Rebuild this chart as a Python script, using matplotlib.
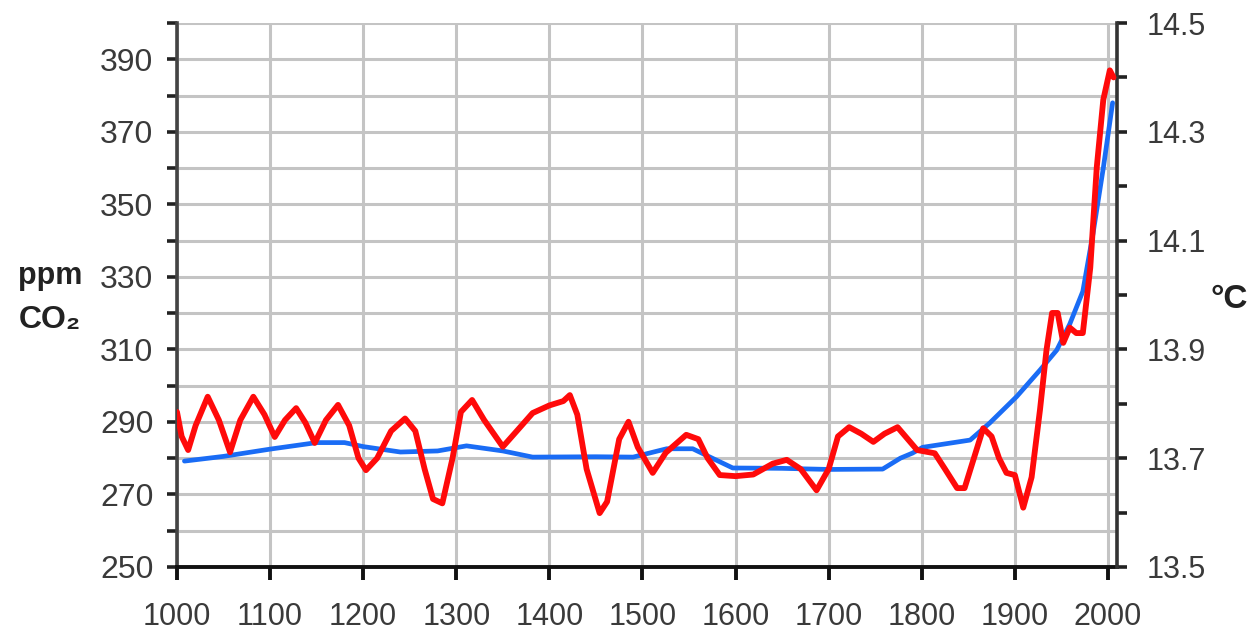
import numpy as np
import matplotlib
matplotlib.use('Agg')
import matplotlib.pyplot as plt
from matplotlib.ticker import MultipleLocator

# CO2 concentration (ppm, left axis)
co2_year = [1008, 1050, 1100, 1150, 1180, 1200, 1240, 1280, 1311, 1350, 1382,
            1450, 1490, 1526, 1554, 1575, 1597, 1650, 1700, 1758, 1777, 1790,
            1801, 1852, 1873, 1902, 1927, 1945, 1959, 1973, 1984, 1995, 2005]
co2_ppm = [279.2, 280.5, 282.5, 284.3, 284.3, 283.2, 281.7, 282.0, 283.4, 282.0, 280.3,
           280.4, 280.3, 282.6, 282.6, 280.0, 277.3, 277.2, 276.9, 277.0, 280.0, 281.4,
           283.0, 285.0, 289.7, 297.0, 304.3, 309.8, 317.0, 326.0, 342.0, 360.0, 378.0]

# temperature (deg C, right axis)
temp_year = [1000, 1005, 1012, 1020, 1033, 1045, 1057, 1068, 1082, 1094, 1105, 1116,
             1128, 1138, 1148, 1160, 1173, 1185, 1195, 1203, 1215, 1230, 1245, 1256,
             1266, 1275, 1285, 1296, 1305, 1317, 1330, 1350, 1365, 1382, 1400, 1415,
             1422, 1430, 1440, 1454, 1462, 1475, 1485, 1495, 1511, 1525, 1547, 1560,
             1570, 1583, 1600, 1619, 1640, 1655, 1670, 1687, 1700, 1710, 1722, 1735,
             1748, 1760, 1774, 1785, 1795, 1814, 1825, 1838, 1846, 1856, 1866, 1875,
             1883, 1891, 1900, 1909, 1918, 1927, 1934, 1940, 1946, 1952, 1959, 1966,
             1973, 1977, 1981, 1988, 1995, 2002, 2006]
temp_c = [13.785, 13.74, 13.715, 13.76, 13.813, 13.77, 13.711, 13.77, 13.813, 13.78, 13.739, 13.77,
          13.792, 13.765, 13.728, 13.77, 13.798, 13.76, 13.70, 13.678, 13.70, 13.75, 13.773, 13.75,
          13.68, 13.625, 13.617, 13.70, 13.785, 13.807, 13.77, 13.721, 13.75, 13.783, 13.797, 13.805,
          13.816, 13.78, 13.68, 13.599, 13.62, 13.735, 13.767, 13.72, 13.673, 13.71, 13.743, 13.735,
          13.70, 13.669, 13.667, 13.67, 13.69, 13.697, 13.68, 13.641, 13.68, 13.74, 13.757, 13.745,
          13.73, 13.745, 13.757, 13.735, 13.715, 13.709, 13.68, 13.645, 13.645, 13.70, 13.755, 13.74,
          13.70, 13.673, 13.669, 13.609, 13.665, 13.789, 13.899, 13.967, 13.967, 13.912, 13.94, 13.93,
          13.93, 13.99, 14.05, 14.235, 14.359, 14.413, 14.40]

year_ticks = list(range(1000, 2001, 100))
ppm_ticks = list(range(250, 391, 20))
temp_ticks = [13.5, 13.7, 13.9, 14.1, 14.3, 14.5]

plt.rcParams['font.family'] = ['Liberation Sans', 'DejaVu Sans']

fig = plt.figure(figsize=(12.49, 6.34), dpi=100)
ax = fig.add_axes([0.1417, 0.1057, 0.7526, 0.858])
ax2 = ax.twinx()

ax.set_xlim(1000, 2009.7)
ax.set_ylim(250, 400)
ax2.set_ylim(13.5, 14.5)

grid_kw = dict(color='#c4c4c4', linewidth=2.2)
ax.set_xticks(year_ticks)
ax.set_xticklabels([str(y) for y in year_ticks])
ax.set_yticks(ppm_ticks)
ax.yaxis.set_minor_locator(MultipleLocator(10))
ax.grid(True, which='both', axis='y', **grid_kw)
ax.grid(True, which='major', axis='x', **grid_kw)
ax.set_axisbelow(True)

ax2.set_yticks(temp_ticks)
ax2.set_yticklabels([f'{t:.1f}' for t in temp_ticks])
ax2.yaxis.set_minor_locator(MultipleLocator(0.1))

ax.plot(co2_year, co2_ppm, color='#1a6cf5', linewidth=3.4, solid_joinstyle='round',
        solid_capstyle='round', zorder=3)
ax2.plot(temp_year, temp_c, color='#ff0a0a', linewidth=4.2, solid_joinstyle='round',
         solid_capstyle='round', zorder=4)

for a in (ax, ax2):
    a.spines['top'].set_visible(False)
ax.spines['left'].set_color('#444444')
ax.spines['left'].set_linewidth(2.6)
ax.spines['bottom'].set_color('#111111')
ax.spines['bottom'].set_linewidth(2.8)
ax.spines['right'].set_visible(False)
ax2.spines['left'].set_visible(False)
ax2.spines['bottom'].set_visible(False)
ax2.spines['right'].set_color('#333333')
ax2.spines['right'].set_linewidth(2.6)

ax.tick_params(axis='y', which='both', direction='out', length=7, width=2.6,
               color='#222222', labelsize=23, labelcolor='#3a3a3a', pad=10)
ax.tick_params(axis='x', which='major', direction='out', length=9, width=2.8,
               color='#111111', labelsize=22, labelcolor='#3a3a3a', pad=16)
ax2.tick_params(axis='y', which='both', direction='out', length=7, width=2.6,
                color='#222222', labelsize=22, labelcolor='#3a3a3a', pad=14)

fig.text(50 / 1249, 1 - 276 / 634, 'ppm', ha='center', va='center',
         fontsize=22, fontweight='bold', color='#222222')
fig.text(50 / 1249, 1 - 320 / 634, 'CO₂', ha='center', va='center',
         fontsize=23, fontweight='bold', color='#222222')
fig.text(1229 / 1249, 1 - 300 / 634, '°C', ha='center', va='center',
         fontsize=24, fontweight='bold', color='#222222')

fig.savefig('out.png', dpi=100)
